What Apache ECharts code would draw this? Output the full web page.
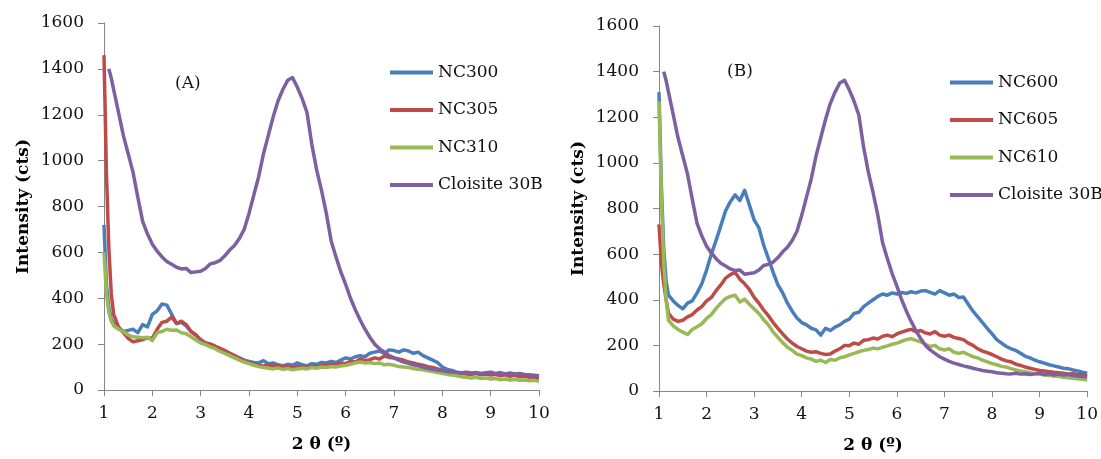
<!DOCTYPE html>
<html>
<head>
<meta charset="utf-8">
<script src="https://cdn.jsdelivr.net/npm/echarts@6/dist/echarts.min.js"></script>
<style>
html,body{margin:0;padding:0;background:#fff;}
#c{width:1101px;height:459px;}
</style>
</head>
<body>
<div id="c"></div>
<script>
// 2θ grid (shared by every series)
const xs = [1.0,1.05,1.1,1.15,1.2,
1.3,1.4,1.5,1.6,1.7,1.8,1.9,2.0,2.1,2.2,
2.3,2.4,2.5,2.6,2.7,2.8,2.9,3.0,3.1,3.2,
3.3,3.4,3.5,3.6,3.7,3.8,3.9,4.0,4.1,4.2,
4.3,4.4,4.5,4.6,4.7,4.8,4.9,5.0,5.1,5.2,
5.3,5.4,5.5,5.6,5.7,5.8,5.9,6.0,6.1,6.2,
6.3,6.4,6.5,6.6,6.7,6.8,6.9,7.0,7.1,7.2,
7.3,7.4,7.5,7.6,7.7,7.8,7.9,8.0,8.1,8.2,
8.3,8.4,8.5,8.6,8.7,8.8,8.9,9.0,9.1,9.2,
9.3,9.4,9.5,9.6,9.7,9.8,9.9,10.0];

const xTicks = [1,2,3,4,5,6,7,8,9,10];
const yTicks = [0,200,400,600,800,1000,1200,1400,1600];

// Panel A
const NC300 = [720,460,360,310,290,
270,255,260,265,250,285,275,330,345,375,
370,330,290,295,280,255,240,220,205,200,
190,180,170,160,150,140,130,125,120,118,
128,115,118,110,105,112,108,118,110,105,
115,112,120,118,125,120,130,140,135,145,
150,145,160,165,170,160,175,172,165,175,
170,160,165,150,140,130,120,100,90,85,
78,75,72,70,74,70,68,72,70,68,
70,66,68,64,62,60,58,55];

const NC305 = [1460,950,620,420,330,
275,250,225,210,215,220,228,225,265,295,
300,318,290,300,285,255,240,215,205,200,
190,182,172,160,150,138,128,118,112,108,
105,110,102,108,100,105,98,102,100,95,
105,100,108,105,112,110,118,115,125,122,
135,128,132,140,135,148,142,140,135,130,
122,118,112,108,102,98,92,85,82,78,
74,72,70,68,72,66,70,65,68,62,
66,60,64,58,60,55,52,50];

const NC310 = [600,420,340,300,280,
265,255,240,232,230,228,230,215,250,255,
265,260,262,250,245,232,218,205,198,188,
180,168,160,150,140,130,122,115,108,102,
98,95,92,96,90,94,88,92,95,92,
98,95,100,98,102,100,105,108,112,118,
122,118,120,115,118,110,112,108,102,100,
98,94,90,88,84,80,76,72,68,65,
62,58,55,52,55,50,52,48,50,45,
48,44,46,42,44,40,42,38];

// Cloisite 30B (both panels)
const C30B = [null,null,1400,1360,1310,
1210,1110,1030,950,840,735,680,635,605,580,
560,548,535,528,530,512,515,518,530,550,
555,565,585,610,630,660,700,770,850,930,
1030,1110,1190,1260,1310,1350,1362,1320,1270,1210,
1070,960,870,770,650,580,515,460,400,350,
305,265,230,200,180,165,150,140,130,122,
116,110,105,100,95,90,87,84,80,78,
76,75,78,74,76,72,75,78,72,76,
70,74,70,72,68,66,64,62];

// Panel B
const NC600 = [1310,900,620,480,420,
395,375,360,385,395,430,470,530,600,660,
725,790,830,860,835,880,815,750,715,640,
580,520,465,430,385,350,320,300,290,275,
268,245,275,265,280,290,305,315,340,345,
370,385,400,415,425,420,430,425,432,428,
435,430,438,440,432,425,440,430,420,425,
410,412,380,350,325,300,275,250,225,210,
195,185,178,165,152,145,135,128,122,115,
110,105,100,98,92,88,82,78];

const NC605 = [730,560,470,400,340,
315,305,310,325,335,355,370,395,410,440,
465,495,510,520,490,470,445,410,385,355,
330,300,275,250,228,210,195,185,175,170,
172,165,160,162,175,185,200,198,210,205,
222,225,232,228,240,245,238,250,258,265,
270,260,265,255,250,260,245,240,245,235,
230,225,210,200,185,175,168,160,150,140,
132,128,118,112,105,100,95,90,88,85,
82,80,78,75,76,72,70,68];

const NC610 = [1270,850,560,400,310,
285,270,258,248,270,282,295,318,335,362,
385,405,415,420,390,402,380,360,340,312,
290,258,235,212,192,178,162,155,145,140,
130,135,125,138,135,145,150,158,165,172,
178,182,188,185,192,198,205,210,218,225,
230,222,215,205,195,200,185,180,185,170,
165,170,160,150,145,135,128,120,115,108,
105,98,92,88,85,80,76,74,70,68,
66,64,60,58,56,54,52,48];

const namesA = ['NC300','NC305','NC310','Cloisite 30B'];
const namesB = ['NC600','NC605','NC610','Cloisite 30B'];
const colors = ['#4A7EBB','#BE4B48','#98B954','#7D60A0'];

const FONT = 'DejaVu Serif';
const pair = arr => xs.map((x,i)=>[x, arr[i]]);

function mkX(idx){
  return {
    type:'value', gridIndex:idx, min:xTicks[0], max:xTicks[xTicks.length-1], interval:1,
    name:'2 θ (º)', nameLocation:'middle', nameGap:46,
    nameTextStyle:{fontFamily:FONT, fontWeight:'bold', fontSize:17, color:'#000'},
    axisLine:{show:true, onZero:false, lineStyle:{color:'#868686', width:1}},
    axisTick:{show:true, length:6, lineStyle:{color:'#868686'}},
    axisLabel:{fontFamily:FONT, fontSize:17, color:'#111', margin:15, formatter:v=>String(v)},
    splitLine:{show:false}
  };
}
function mkY(idx){
  return {
    type:'value', gridIndex:idx, min:yTicks[0], max:yTicks[yTicks.length-1], interval:200,
    name:'Intensity (cts)', nameLocation:'middle', nameGap:72, nameRotate:90,
    nameTextStyle:{fontFamily:FONT, fontWeight:'bold', fontSize:17, color:'#000'},
    axisLine:{show:true, lineStyle:{color:'#868686', width:1}},
    axisTick:{show:true, length:6, lineStyle:{color:'#868686'}},
    axisLabel:{fontFamily:FONT, fontSize:17, color:'#111', margin:20, formatter:v=>String(v)},
    splitLine:{show:false}
  };
}
function mkSeries(name, arr, color, idx){
  return {
    type:'line', name:name, xAxisIndex:idx, yAxisIndex:idx,
    data:pair(arr), showSymbol:false, symbol:'none', smooth:false,
    connectNulls:false, animation:false,
    lineStyle:{color:color, width:3.5, join:'round'},
    itemStyle:{color:color}
  };
}
function mkLegend(names, left, top){
  return {
    data:names, orient:'vertical', left:left, top:top,
    icon:'rect', itemWidth:43, itemHeight:4, itemGap:20.5,
    textStyle:{fontFamily:FONT, fontSize:17, color:'#111', lineHeight:17},
    selectedMode:false
  };
}

const chart = echarts.init(document.getElementById('c'), null, {renderer:'canvas'});
chart.setOption({
  backgroundColor:'#fff',
  animation:false,
  grid:[
    {left:104, top:23, width:435, height:367},
    {left:659, top:26, width:430, height:368}
  ],
  xAxis:[mkX(0), mkX(1)],
  yAxis:[mkY(0), mkY(1)],
  legend:[mkLegend(namesA, 385, 59), mkLegend(namesB, 945, 69)],
  graphic:[
    {type:'text', left:175, top:75, style:{text:'(A)', font:'17px "DejaVu Serif"', fill:'#111'}},
    {type:'text', left:727, top:63, style:{text:'(B)', font:'17px "DejaVu Serif"', fill:'#111'}}
  ],
  series:[
    mkSeries('NC300', NC300, colors[0], 0),
    mkSeries('NC305', NC305, colors[1], 0),
    mkSeries('NC310', NC310, colors[2], 0),
    mkSeries('Cloisite 30B', C30B, colors[3], 0),
    mkSeries('NC600', NC600, colors[0], 1),
    mkSeries('NC605', NC605, colors[1], 1),
    mkSeries('NC610', NC610, colors[2], 1),
    mkSeries('Cloisite 30B', C30B, colors[3], 1)
  ]
});
</script>
</body>
</html>
